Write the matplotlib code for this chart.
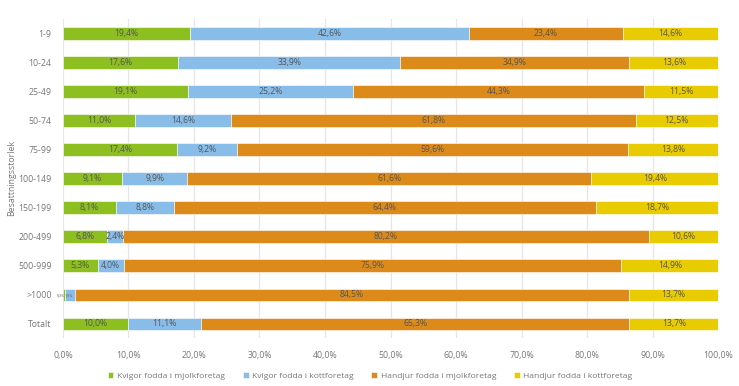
import numpy as np
import matplotlib.pyplot as plt

plt.rcParams['font.family'] = ['Open Sans', 'DejaVu Sans']

categories = ['1-9', '10-24', '25-49', '50-74', '75-99', '100-149', '150-199',
              '200-499', '500-999', '>1000', 'Totalt']
kvigor_mjolk = [19.4, 17.6, 19.1, 11.0, 17.4, 9.1, 8.1, 6.8, 5.3, 0.3, 10.0]
kvigor_kott = [42.6, 33.9, 25.2, 14.6, 9.2, 9.9, 8.8, 2.4, 4.0, 1.5, 11.1]
handjur_mjolk = [23.4, 34.9, 44.3, 61.8, 59.6, 61.6, 64.4, 80.2, 75.9, 84.5, 65.3]
handjur_kott = [14.6, 13.6, 11.5, 12.5, 13.8, 19.4, 18.7, 10.6, 14.9, 13.7, 13.7]

series = [
    ('Kvigor fodda i mjolkforetag', kvigor_mjolk, '#8cbf1f'),
    ('Kvigor fodda i kottforetag', kvigor_kott, '#88bde9'),
    ('Handjur fodda i mjolkforetag', handjur_mjolk, '#dc8b1b'),
    ('Handjur fodda i kottforetag', handjur_kott, '#e8cb00'),
]

fig = plt.figure(figsize=(7.39, 3.86), dpi=100)
ax = fig.add_axes([0.085, 0.124, 0.887, 0.827])

y = np.arange(len(categories))
left = np.zeros(len(categories))
for i, (name, vals, col) in enumerate(series):
    vals = np.array(vals)
    bars = ax.barh(y, vals, left=left, height=0.42, color=col, label=name,
                   edgecolor='white', linewidth=0.4, zorder=3)
    for b, v in zip(bars, vals):
        lbl = f'{v:.1f}%'.replace('.', ',')
        yc = b.get_y() + b.get_height() / 2
        if v >= 2:
            ax.text(b.get_x() + b.get_width() / 2, yc, lbl, ha='center', va='center',
                    fontsize=6.2, color='#555555', zorder=4)
        elif i == 0:
            # tiny segment: push label to the left of its right edge
            ax.text(b.get_x() + b.get_width(), yc, lbl, ha='right', va='center',
                    fontsize=2.6, color='#555555', zorder=4)
        else:
            ax.text(b.get_x(), yc, lbl, ha='left', va='center',
                    fontsize=2.6, color='#555555', zorder=4)
    left += vals

ax.set_ylim(len(categories) - 0.5, -0.5)
ax.set_xlim(0, 100)
ax.set_yticks(y)
ax.set_yticklabels(categories)
ax.set_xticks(np.arange(0, 101, 10))
ax.set_xticklabels([f'{t:.1f}%'.replace('.', ',') for t in np.arange(0, 101, 10)])
ax.tick_params(axis='both', length=0, labelsize=6.3, colors='#777777')
ax.tick_params(axis='x', pad=9)
ax.tick_params(axis='y', pad=8)
ax.grid(axis='x', color='#e6e6e6', linewidth=0.9, zorder=0)
for s in ax.spines.values():
    s.set_visible(False)
fig.text(12 / 739, 1 - 178 / 386, 'Besattningsstorlek', rotation=90, ha='center',
         va='center', fontsize=6.3, color='#777777')

fig.legend(loc='center', bbox_to_anchor=(370 / 739, 1 - 376 / 386), ncol=4, frameon=False,
           fontsize=6.1, labelcolor='#777777', handlelength=0.7, handleheight=0.7,
           columnspacing=2.1, handletextpad=0.4)

plt.savefig('out.png', dpi=100)
